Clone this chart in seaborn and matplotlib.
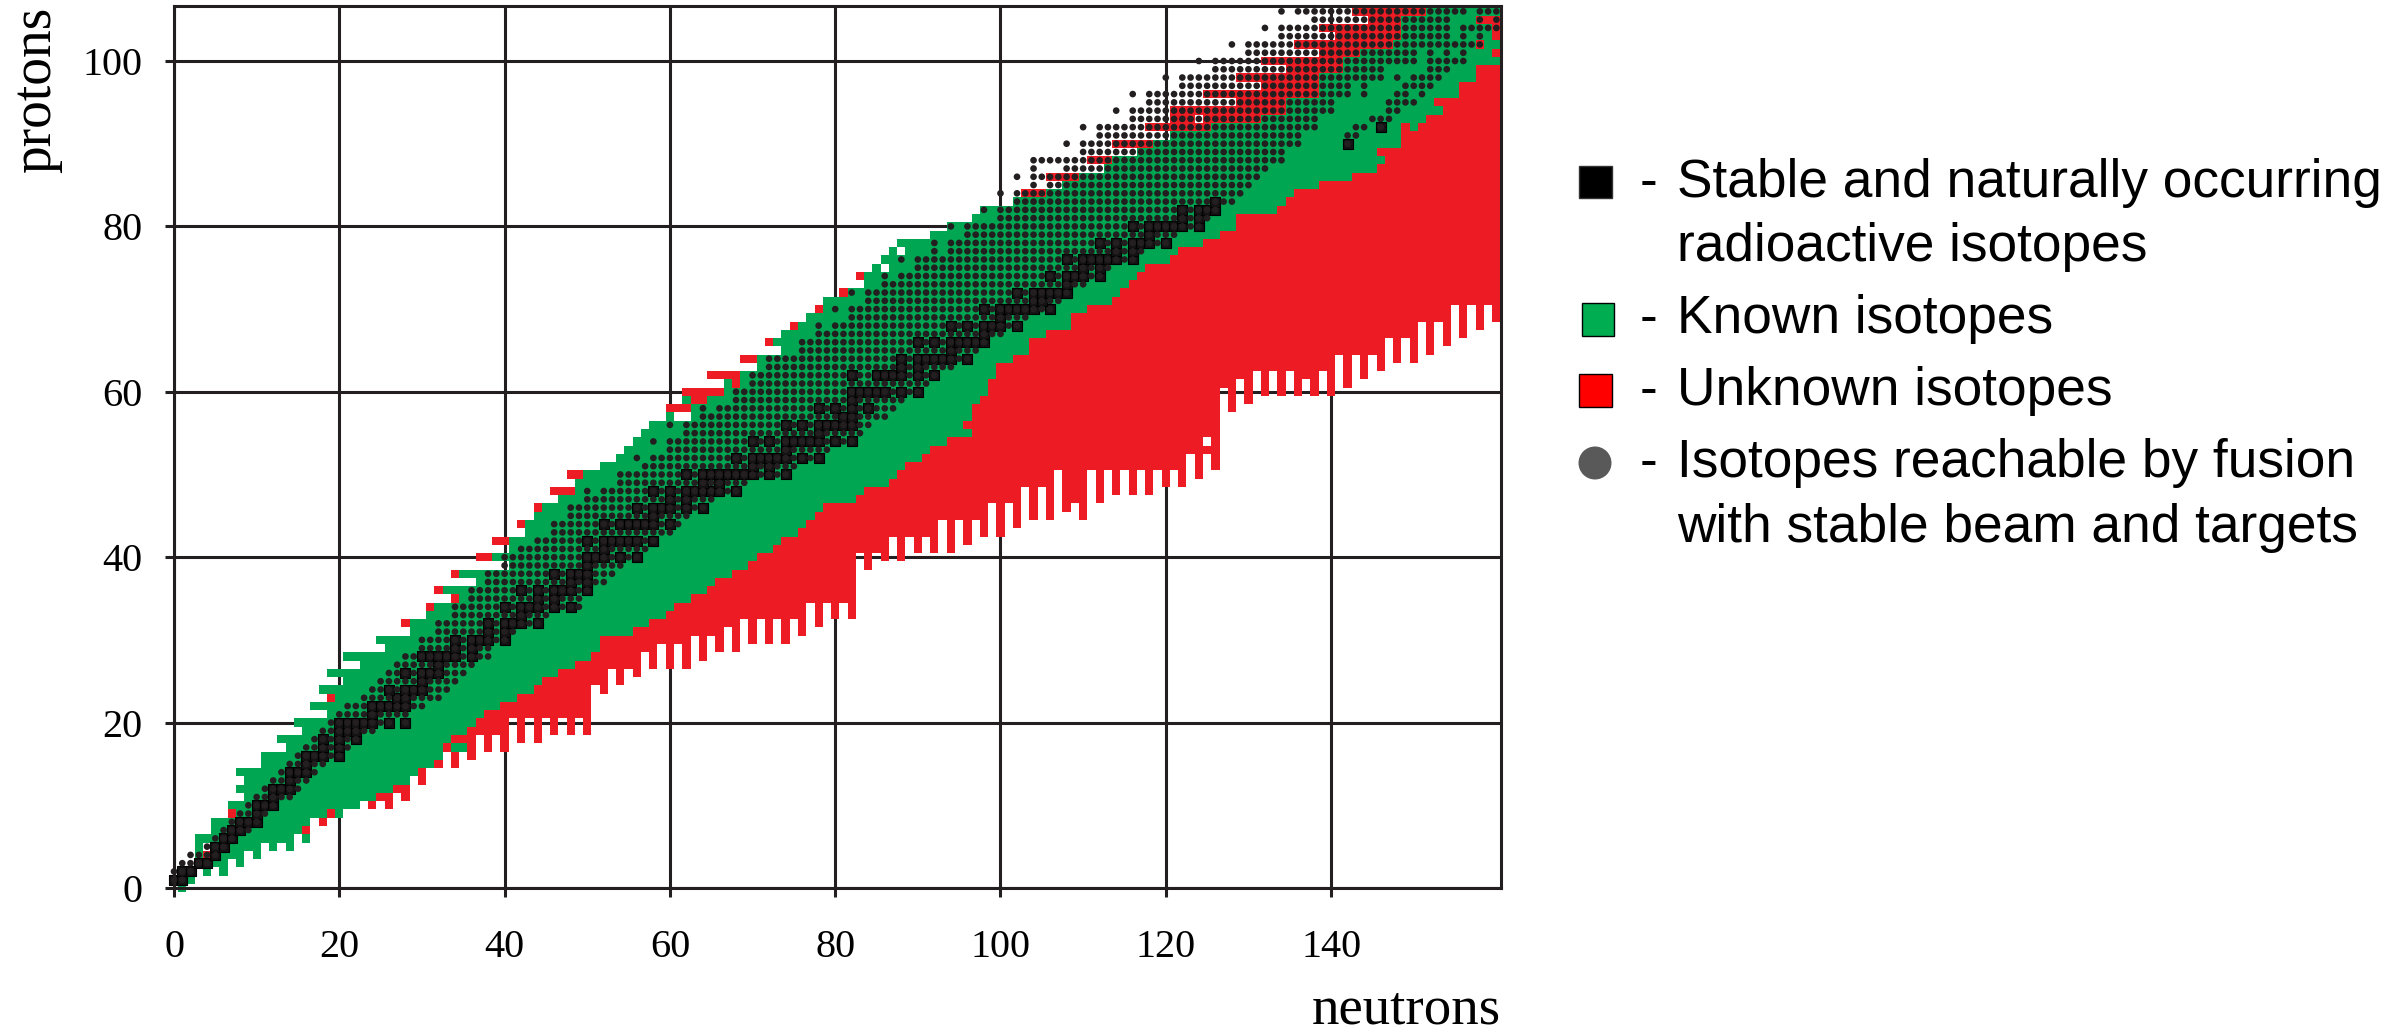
import numpy as np
import pandas as pd
import matplotlib.pyplot as plt
import seaborn as sns
from matplotlib.colors import ListedColormap
from matplotlib.patches import Rectangle, Ellipse

GREEN = '#00A651'
RED = '#ED1C24'
INK = '#231F20'
W, H = 2407, 1034

# lowest proton number drawn in each neutron column, N = 0..160
col_floor = [1, 0, 1, 3, 2, 3, 2, 4, 3, 5, 4, 6, 5, 6, 5, 7, 6, 9, 8, 9, 9, 10, 10, 11, 10, 11, 10, 12, 11, 14,
             13, 15, 15, 17, 15, 17, 16, 19, 17, 19, 17, 21, 18, 21, 18, 21, 19, 21, 19, 21, 19, 25, 24, 27, 25, 27, 26, 29, 27, 30,
             27, 30, 27, 31, 28, 31, 29, 32, 29, 33, 30, 33, 30, 33, 30, 33, 31, 35, 32, 35, 33, 35, 33, 41, 39, 41, 40, 43, 40, 43,
             41, 43, 41, 45, 41, 45, 42, 45, 43, 47, 43, 47, 44, 49, 45, 49, 45, 51, 46, 47, 45, 51, 47, 51, 48, 51, 48, 51, 48, 51,
             49, 51, 49, 53, 50, 53, 51, 61, 58, 62, 59, 63, 60, 63, 60, 63, 60, 62, 60, 63, 60, 65, 61, 65, 62, 65, 63, 67, 64, 67,
             64, 69, 65, 69, 66, 71, 67, 71, 68, 71, 69]

# per proton row, Z = 0..106: first cell, first green cell, last green cell
row_lo = [1, 0, 1, 3, 3, 3, 3, 5, 5, 7, 7, 9, 8, 9, 8, 11, 11, 14, 13, 16, 15, 19, 17, 19, 18, 21, 19, 23, 21, 26,
          25, 29, 28, 31, 31, 34, 32, 37, 34, 41, 37, 41, 39, 43, 42, 44, 44, 47, 46, 49, 48, 52, 54, 55, 56, 57, 58, 60, 60, 62,
          62, 67, 65, 71, 69, 74, 72, 74, 75, 77, 78, 79, 81, 84, 83, 85, 86, 87, 88, 92, 94, 97, 98, 102, 103, 108, 106, 113, 111, 117,
          114, 121, 118, 121, 121, 129, 125, 132, 129, 135, 132, 139, 136, 141, 139, 145, 143]
green_lo = [1, 0, 1, 3, 3, 3, 3, 5, 5, 8, 7, 9, 8, 9, 8, 11, 11, 14, 13, 16, 15, 19, 17, 20, 18, 21, 19, 23, 21, 26,
            25, 29, 29, 31, 32, 35, 33, 37, 35, 41, 39, 41, 41, 43, 43, 44, 45, 47, 49, 49, 50, 52, 54, 55, 56, 57, 58, 60, 63, 62,
            67, 67, 69, 71, 71, 74, 73, 74, 76, 77, 79, 79, 82, 84, 84, 85, 86, 87, 88, 92, 94, 97, 98, 102, 106, 108, 110, 113, 114, 117,
            119, 121, 126, 132, 135, 135, 139, 139, 139, 142, 142, 144, 148, 149, 149, 149, 152]
green_hi = [1, 2, 6, 8, 10, 14, 16, 15, 17, 20, 22, 24, 26, 29, 29, 31, 32, 32, 33, 35, 36, 37, 39, 41, 43, 44, 46, 48, 50, 51,
            51, 55, 57, 59, 60, 62, 64, 65, 67, 69, 70, 72, 73, 75, 76, 77, 78, 82, 83, 86, 87, 88, 90, 91, 93, 96, 95, 96, 96, 97,
            98, 98, 99, 99, 101, 103, 103, 105, 108, 108, 110, 113, 114, 115, 116, 117, 120, 121, 124, 126, 128, 128, 133, 134, 135, 138, 142, 145, 146, 145,
            148, 148, 148, 151, 153, 152, 155, 155, 157, 157, 160, 159, 160, 159, 159, 157, 160]

# odd cells as (N, Z)
red_cells = [(4, 4), (19, 9), (63, 59), (64, 59), (68, 61), (158, 102)]
green_cells = [(34, 17), (35, 17), (150, 92)]
blank_cells = [(4, 5), (61, 57), (62, 57), (86, 75), (88, 77), (124, 93), (125, 54)]

# reachable isotopes, Z = 0..106: first and last dot of the main run
dot_lo = [1, 1, 0, 1, 2, 4, 5, 6, 7, 8, 9, 10, 11, 12, 13, 14, 15, 16, 17, 18, 19, 20, 21, 23, 24, 25, 26, 27, 28, 30,
          30, 32, 32, 34, 34, 36, 36, 38, 38, 40, 40, 42, 44, 46, 46, 48, 48, 50, 52, 54, 54, 57, 58, 60, 60, 62, 62, 64, 66, 68,
          68, 70, 70, 72, 72, 76, 76, 78, 80, 82, 82, 84, 84, 86, 88, 90, 90, 94, 94, 96, 96, 100, 100, 102, 102, 106, 104, 108, 104, 110,
          110, 112, 112, 116, 116, 118, 118, 122, 122, 126, 126, 130, 130, 134, 134, 138, 136]
dot_hi = [0, 0, 0, 2, 4, 4, 5, 9, 10, 11, 12, 14, 15, 16, 17, 18, 19, 21, 21, 24, 26, 28, 30, 32, 33, 34, 35, 36, 38, 38,
          39, 41, 44, 45, 49, 49, 50, 52, 53, 54, 56, 57, 58, 60, 61, 62, 64, 65, 68, 69, 74, 75, 78, 79, 82, 83, 84, 86, 87, 88,
          90, 91, 92, 94, 96, 97, 98, 100, 102, 103, 106, 107, 108, 110, 112, 113, 116, 117, 120, 121, 124, 125, 126, 128, 129, 130, 131, 132, 134, 134,
          136, 136, 138, 138, 140, 140, 142, 142, 146, 146, 150, 150, 158, 154, 154, 154, 156]
dot_extra = [(28, 20), (50, 48), (56, 52), (58, 54), (60, 56), (64, 58), (78, 68), (80, 70), (82, 72), (86, 74), (88, 76),
             (92, 77), (92, 78), (94, 80), (98, 82), (100, 84), (104, 85), (102, 86), (104, 87), (108, 90), (110, 92), (114, 94),
             (116, 96), (120, 98), (124, 100), (128, 102), (132, 104), (134, 106), (142, 91), (143, 91), (143, 92), (144, 92),
             (145, 93), (146, 93), (147, 93), (147, 94), (148, 94), (147, 95), (148, 95), (149, 95), (150, 95),
             (144, 96), (148, 96), (149, 96), (151, 96), (144, 97), (149, 97), (150, 97), (151, 97), (152, 97),
             (148, 98), (150, 98), (151, 98), (152, 98), (153, 98), (152, 99), (153, 99), (154, 99),
             (152, 100), (153, 100), (154, 100), (155, 100), (156, 100), (152, 101), (154, 101), (156, 101),
             (156, 103), (158, 103), (156, 104), (157, 104), (158, 104), (159, 104), (160, 104),
             (158, 105), (160, 105), (158, 106), (159, 106), (160, 106)]

# stable and naturally occurring isotopes, neutrons per proton number
stable = {1: [0, 1], 2: [1, 2], 3: [3, 4], 4: [5], 5: [5, 6], 6: [6, 7], 7: [7, 8], 8: [8, 9, 10], 9: [10], 10: [10, 11, 12],
          11: [12], 12: [12, 13, 14], 13: [14], 14: [14, 15, 16], 15: [16], 16: [16, 17, 18, 20], 17: [18, 20], 18: [18, 20, 22],
          19: [20, 21, 22], 20: [20, 21, 22, 23, 24, 26, 28], 21: [24], 22: [24, 25, 26, 27, 28], 23: [27, 28], 24: [26, 28, 29, 30],
          25: [30], 26: [28, 30, 31, 32], 27: [32], 28: [30, 31, 32, 33, 34, 36], 29: [34, 36], 30: [34, 36, 37, 38, 40], 31: [38, 40],
          32: [38, 40, 41, 42, 44], 33: [42], 34: [40, 42, 43, 44, 46, 48], 35: [44, 46], 36: [42, 44, 46, 47, 48, 50], 37: [48, 50],
          38: [46, 48, 49, 50], 39: [50], 40: [50, 51, 52, 54, 56], 41: [52], 42: [50, 52, 53, 54, 55, 56, 58],
          44: [52, 54, 55, 56, 57, 58, 60], 45: [58], 46: [56, 58, 59, 60, 62, 64], 47: [60, 62], 48: [58, 60, 62, 63, 64, 65, 66, 68],
          49: [64, 66], 50: [62, 64, 65, 66, 67, 68, 69, 70, 72, 74], 51: [70, 72], 52: [68, 70, 71, 72, 73, 74, 76, 78], 53: [74],
          54: [70, 72, 74, 75, 76, 77, 78, 80, 82], 55: [78], 56: [74, 76, 78, 79, 80, 81, 82], 57: [81, 82], 58: [78, 80, 82, 84],
          59: [82], 60: [82, 83, 84, 85, 86, 88, 90], 62: [82, 85, 86, 87, 88, 90, 92], 63: [88, 90], 64: [88, 90, 91, 92, 93, 94, 96],
          65: [94], 66: [90, 92, 94, 95, 96, 97, 98], 67: [98], 68: [94, 96, 98, 99, 100, 102], 69: [100],
          70: [98, 100, 101, 102, 103, 104, 106], 71: [104, 105], 72: [102, 104, 105, 106, 107, 108], 73: [108],
          74: [106, 108, 109, 110, 112], 75: [110, 112], 76: [108, 110, 111, 112, 113, 114, 116], 77: [114, 116],
          78: [112, 114, 116, 117, 118, 120], 79: [118], 80: [116, 118, 119, 120, 121, 122, 124], 81: [122, 124],
          82: [122, 124, 125, 126], 83: [126], 90: [142], 92: [146]}

x_ticks = [0, 20, 40, 60, 80, 100, 120, 140]
y_ticks = [0, 20, 40, 60, 80, 100]

# 0 empty, 1 known, 2 unknown
grid = np.zeros((107, 161), dtype=int)
for z in range(107):
    for n in range(row_lo[z], 161):
        if z >= col_floor[n]:
            grid[z, n] = 1 if green_lo[z] <= n <= green_hi[z] else 2
for n, z in red_cells:
    grid[z, n] = 2
for n, z in green_cells:
    grid[z, n] = 1
for n, z in blank_cells:
    grid[z, n] = 0

dots = set(dot_extra)
for z in range(107):
    for n in range(dot_lo[z], dot_hi[z] + 1):
        dots.add((n, z))
dots.discard((27, 20))
dots.discard((51, 48))
for z, ns in stable.items():
    for n in ns:
        dots.add((n, z))
dots_df = pd.DataFrame(sorted(dots), columns=['n', 'z'])
stable_df = pd.DataFrame([(n, z) for z, ns in stable.items() for n in ns], columns=['n', 'z'])

sns.set_theme(style='white')
plt.rcParams['font.family'] = ['Liberation Serif']

fig = plt.figure(figsize=(W / 100, H / 100), dpi=100)
ax = fig.add_axes([174 / W, (H - 888) / H, (1501 - 174) / W, (888 - 6) / H])

sns.heatmap(pd.DataFrame(grid), mask=grid == 0, cmap=ListedColormap([GREEN, RED]), vmin=1, vmax=2,
            cbar=False, ax=ax, xticklabels=False, yticklabels=False)
ax.collections[0].set_clip_on(False)
ax.collections[0].set_zorder(1)

# heatmap cells sit between whole numbers, so everything else moves half a cell
sns.scatterplot(x=stable_df['n'] + 0.5, y=stable_df['z'] + 0.5, marker='s', s=48, color='#141213',
                edgecolor='black', linewidth=0.8, ax=ax, clip_on=False, zorder=2)
sns.scatterplot(x=dots_df['n'] + 0.5, y=dots_df['z'] + 0.5, marker='o', s=23, color=INK,
                edgecolor='none', linewidth=0, ax=ax, clip_on=False, zorder=3)

ax.set_xlim(0.5, 0.5 + 160.56)
ax.set_ylim(0.5, 0.5 + 106.65)
ax.set_xticks([t + 0.5 for t in x_ticks], labels=x_ticks)
ax.set_yticks([t + 0.5 for t in y_ticks], labels=y_ticks)
ax.tick_params(axis='x', direction='out', length=6.5, width=2.2, color=INK, labelsize=29, pad=23, labelcolor='black', bottom=True)
ax.tick_params(axis='y', direction='out', length=6.5, width=2.2, color=INK, labelsize=29, pad=16, labelcolor='black', left=True)
ax.grid(True, color=INK, linewidth=2.2)
ax.set_axisbelow(True)
for side in ax.spines.values():
    side.set_visible(True)
    side.set_color(INK)
    side.set_linewidth(2.2)
ax.set_xlabel('')
ax.set_ylabel('')

fig.text(1501 / W, 1 - 1010 / H, 'neutrons', ha='right', va='center', fontsize=39.5, color='black')
fig.text(36 / W, 1 - 90 / H, 'protons', ha='center', va='center', rotation=90, fontsize=40, color='black')

# legend, drawn by hand to keep the layout of the original
fig.add_artist(Rectangle((1579 / W, 1 - 198 / H), 33 / W, 32 / H, facecolor='black', edgecolor='#333333', linewidth=1))
fig.add_artist(Rectangle((1582 / W, 1 - 336 / H), 32 / W, 33 / H, facecolor='#00AD50', edgecolor='black', linewidth=1))
fig.add_artist(Rectangle((1579 / W, 1 - 407 / H), 33 / W, 33 / H, facecolor='#FF0000', edgecolor='black', linewidth=1))
fig.add_artist(Ellipse((1595 / W, 1 - 463 / H), 33 / W, 33 / H, facecolor='#595959', edgecolor='none'))

legend_lines = [('Stable and naturally occurring', 197, True),
                ('radioactive isotopes', 261, False),
                ('Known isotopes', 333, True),
                ('Unknown isotopes', 405, True),
                ('Isotopes reachable by fusion', 477, True),
                ('with stable beam and targets', 542, False)]
for label, base, dash in legend_lines:
    fig.text(1677 / W, 1 - base / H, label, ha='left', va='baseline', fontsize=38.3,
             family='Liberation Sans', color='black')
    if dash:
        fig.text(1640 / W, 1 - base / H, '-', ha='left', va='baseline', fontsize=38.3,
                 family='Liberation Sans', color='black')

fig.savefig('out.png', dpi=100)
